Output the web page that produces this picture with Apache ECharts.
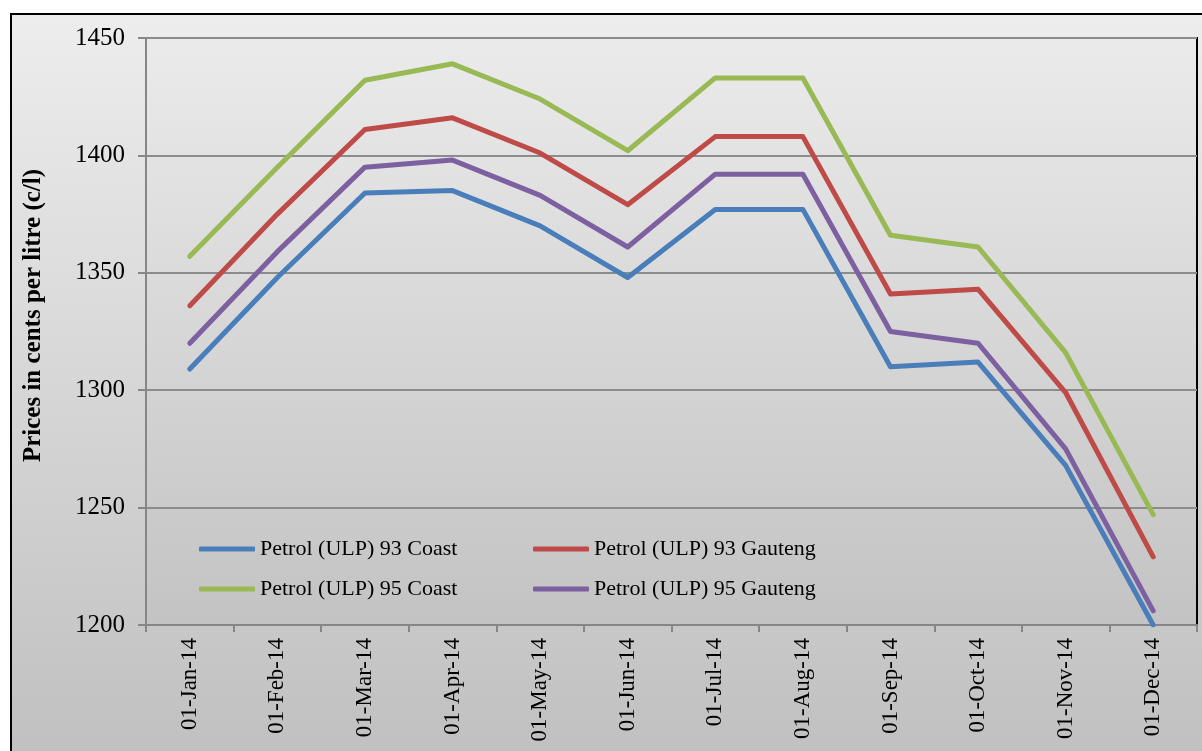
<!DOCTYPE html>
<html>
<head>
<meta charset="utf-8">
<script src="https://cdn.jsdelivr.net/npm/echarts@6/dist/echarts.min.js"></script>
<style>html,body{margin:0;padding:0;background:#fff;}#c{width:1202px;height:751px;}</style>
</head>
<body>
<div id="c"></div>
<script>
const categories = ['01-Jan-14','01-Feb-14','01-Mar-14','01-Apr-14','01-May-14','01-Jun-14','01-Jul-14','01-Aug-14','01-Sep-14','01-Oct-14','01-Nov-14','01-Dec-14'];
const ulp93Coast   = [1309, 1348, 1384, 1385, 1370, 1348, 1377, 1377, 1310, 1312, 1268, 1200];
const ulp93Gauteng = [1336, 1375, 1411, 1416, 1401, 1379, 1408, 1408, 1341, 1343, 1299, 1229];
const ulp95Coast   = [1357, 1395, 1432, 1439, 1424, 1402, 1433, 1433, 1366, 1361, 1316, 1247];
const ulp95Gauteng = [1320, 1359, 1395, 1398, 1383, 1361, 1392, 1392, 1325, 1320, 1275, 1206];
const seriesNames = ['Petrol (ULP) 93 Coast','Petrol (ULP) 93 Gauteng','Petrol (ULP) 95 Coast','Petrol (ULP) 95 Gauteng'];
const yTicks = [1200, 1250, 1300, 1350, 1400, 1450];

const colors = ['#4a7ebb', '#be4b48', '#98b954', '#7d60a0'];
const dataSets = [ulp93Coast, ulp93Gauteng, ulp95Coast, ulp95Gauteng];
const serif = '"Liberation Serif", "DejaVu Serif", serif';

const chart = echarts.init(document.getElementById('c'), null, {renderer: 'canvas'});

const legendPos = [
  {left: 199, top: 538}, {left: 533, top: 538},
  {left: 199, top: 578}, {left: 533, top: 578}
];

const option = {
  animation: false,
  graphic: [{
    type: 'rect', z: -100, silent: true,
    shape: {x: 11, y: 14, width: 1200, height: 760},
    style: {
      fill: new echarts.graphic.LinearGradient(0, 0, 0, 1, [
        {offset: 0, color: '#ededed'}, {offset: 1, color: '#bfbfbf'}
      ]),
      stroke: '#000', lineWidth: 2
    }
  }],
  grid: {
    left: 146, right: 5, top: 38, bottom: 126,
    show: true,
    backgroundColor: new echarts.graphic.LinearGradient(0, 0, 0, 1, [
      {offset: 0, color: '#ebebeb'}, {offset: 1, color: '#c3c3c3'}
    ]),
    borderColor: '#000', borderWidth: 2
  },
  legend: seriesNames.map((n, i) => ({
    data: [n], left: legendPos[i].left, top: legendPos[i].top, padding: 0,
    icon: 'roundRect', itemWidth: 56, itemHeight: 5, itemGap: 4,
    textStyle: {fontFamily: serif, fontSize: 22, color: '#000'}
  })),
  xAxis: {
    type: 'category', data: categories, boundaryGap: true,
    axisLine: {lineStyle: {color: '#868686', width: 2}},
    axisTick: {show: true, length: 7, alignWithLabel: false, lineStyle: {color: '#868686', width: 2}},
    axisLabel: {rotate: 90, fontFamily: serif, fontSize: 23, color: '#000', margin: 13, interval: 0},
    splitLine: {show: false}
  },
  yAxis: {
    type: 'value', min: yTicks[0], max: yTicks[yTicks.length - 1], interval: 50,
    name: 'Prices in cents per litre (c/l)', nameLocation: 'middle', nameGap: 100,
    nameTextStyle: {fontFamily: serif, fontSize: 25, fontWeight: 'bold', color: '#000', padding: [0, 0, 0, 32]},
    axisLine: {show: true, lineStyle: {color: '#868686', width: 2}},
    axisTick: {show: true, length: 8, lineStyle: {color: '#868686', width: 2}},
    axisLabel: {fontFamily: serif, fontSize: 25, color: '#000', margin: 21, formatter: v => String(v)},
    splitLine: {show: true, lineStyle: {color: '#8c8c8c', width: 2}}
  },
  series: seriesNames.map((n, i) => ({
    name: n, type: 'line', data: dataSets[i],
    symbol: 'none', showSymbol: false,
    lineStyle: {color: colors[i], width: 5, cap: 'round', join: 'round'},
    itemStyle: {color: colors[i]},
    z: 3
  }))
};
chart.setOption(option);
</script>
</body>
</html>
